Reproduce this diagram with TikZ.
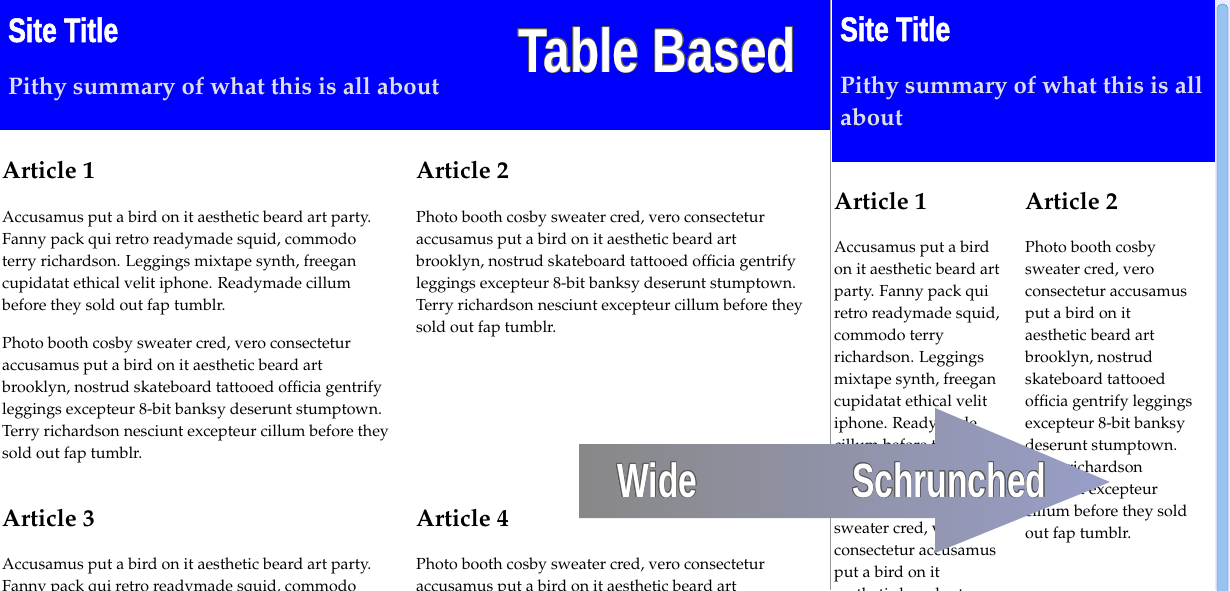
\documentclass[tikz,border=0pt]{standalone}
\usepackage{fontspec}
\newfontfamily\impactfont[FakeStretch=0.78,FakeBold=1.6]{Liberation Sans}
\newfontfamily\condfont[FakeStretch=0.7]{Liberation Sans}
\newfontfamily\widecondfont[FakeStretch=0.77]{Liberation Sans}
\usepackage[T1]{fontenc}
\usepackage{mathpazo}
\usepackage[copies]{contour}
\contourlength{0.6pt}
\usetikzlibrary{positioning}

\definecolor{pageblue}{RGB}{0,0,255}
\definecolor{pithygrey}{RGB}{222,222,232}
\definecolor{arrowleft}{RGB}{136,136,136}
\definecolor{arrowright}{RGB}{152,158,200}
\definecolor{dividergrey}{RGB}{150,150,150}
\definecolor{outlinegrey}{RGB}{90,90,90}
\definecolor{scrollblue}{RGB}{150,195,240}
\definecolor{scrolledge}{RGB}{70,130,210}

\begin{document}
\begin{tikzpicture}[
    x=1pt, y=-1pt,
    header/.style={fill=pageblue, draw=none},
    sitetitle/.style={anchor=base west, inner sep=0pt, text=white, font=\impactfont\bfseries\fontsize{34}{34}\selectfont},
    pithy/.style={anchor=base west, inner sep=0pt, align=left, text=pithygrey, font=\bfseries\fontsize{24}{32}\selectfont},
    bigtitle/.style={anchor=base west, inner sep=0pt, text=white, font=\widecondfont\bfseries\fontsize{62}{62}\selectfont},
    arrowtitle/.style={anchor=base west, inner sep=0pt, text=white, font=\condfont\bfseries\fontsize{48}{48}\selectfont},
    heading/.style={anchor=base west, inner sep=0pt, font=\bfseries\fontsize{24}{26}\selectfont},
    bodytext/.style={anchor=base west, inner sep=0pt, align=left, font=\fontsize{16}{22}\selectfont},
    bigarrow/.style={left color=arrowleft, right color=arrowright, draw=none}
]
\clip (0,0) rectangle (1230,590);
\fill[white] (0,0) rectangle (1230,590);

% Wide page (multi-line texts sit on the baseline of their last line)
\path[header] (0,0) rectangle (830,130);
\node[sitetitle] (wtitle) at (8,42) {Site Title};
\node[pithy] (wpithy) at (8,94) {Pithy summary of what this is all about};
\node[bigtitle] (tablebased) at (518,72) {\contour{outlinegrey}{Table Based}};

\node[heading] (wart1) at (2,178) {Article 1};
\node[bodytext] (wtext1) at (2,310) {Accusamus put a bird on it aesthetic beard art party.\\
Fanny pack qui retro readymade squid, commodo\\
terry richardson. Leggings mixtape synth, freegan\\
cupidatat ethical velit iphone. Readymade cillum\\
before they sold out fap tumblr.};
\node[bodytext] (wtext1b) at (2,458) {Photo booth cosby sweater cred, vero consectetur\\
accusamus put a bird on it aesthetic beard art\\
brooklyn, nostrud skateboard tattooed officia gentrify\\
leggings excepteur 8-bit banksy deserunt stumptown.\\
Terry richardson nesciunt excepteur cillum before they\\
sold out fap tumblr.};

\node[heading] (wart2) at (416,178) {Article 2};
\node[bodytext] (wtext2) at (416,332) {Photo booth cosby sweater cred, vero consectetur\\
accusamus put a bird on it aesthetic beard art\\
brooklyn, nostrud skateboard tattooed officia gentrify\\
leggings excepteur 8-bit banksy deserunt stumptown.\\
Terry richardson nesciunt excepteur cillum before they\\
sold out fap tumblr.};

\node[heading] (wart3) at (2,526) {Article 3};
\node[bodytext] (wtext3) at (2,591) {Accusamus put a bird on it aesthetic beard art party.\\
Fanny pack qui retro readymade squid, commodo};

\node[heading] (wart4) at (416,526) {Article 4};
\node[bodytext] (wtext4) at (416,591) {Photo booth cosby sweater cred, vero consectetur\\
accusamus put a bird on it aesthetic beard art};

% Schrunched page
\path[header] (832,0) rectangle (1215,162);
\draw[dividergrey] (830.5,0) -- (830.5,590);
\node[sitetitle] (stitle) at (840,41) {Site Title};
\node[pithy] (spithy) at (840,125) {Pithy summary of what this is all\\about};

\node[heading] (sart1) at (834,209) {Article 1};
\node[bodytext] (stext1) at (834,472) {Accusamus put a bird\\
on it aesthetic beard art\\
party. Fanny pack qui\\
retro readymade squid,\\
commodo terry\\
richardson. Leggings\\
mixtape synth, freegan\\
cupidatat ethical velit\\
iphone. Readymade\\
cillum before they\\
sold out fap tumblr.};
\node[bodytext] (stext1b) at (834,599) {Photo booth cosby\\
sweater cred, vero\\
consectetur accusamus\\
put a bird on it\\
aesthetic beard art};

\node[heading] (sart2) at (1025,209) {Article 2};
\node[bodytext] (stext2) at (1025,538) {Photo booth cosby\\
sweater cred, vero\\
consectetur accusamus\\
put a bird on it\\
aesthetic beard art\\
brooklyn, nostrud\\
skateboard tattooed\\
officia gentrify leggings\\
excepteur 8-bit banksy\\
deserunt stumptown.\\
Terry richardson\\
nesciunt excepteur\\
cillum before they sold\\
out fap tumblr.};

% Scrollbar
\fill[white!92!blue] (1215,0) rectangle (1230,590);
\draw[scrolledge, fill=scrollblue, rounded corners=5pt] (1217,4) rectangle (1228,600);

% Arrow
\path[bigarrow] (579,444) -- (935,444) -- (935,408) -- (1110,482)
    -- (935,553) -- (935,518) -- (579,518) -- cycle;
\node[arrowtitle] (wide) at (617,497) {\contour{outlinegrey}{Wide}};
\node[arrowtitle] (schrunched) at (852,497) {\contour{outlinegrey}{Schrunched}};

\end{tikzpicture}
\end{document}
